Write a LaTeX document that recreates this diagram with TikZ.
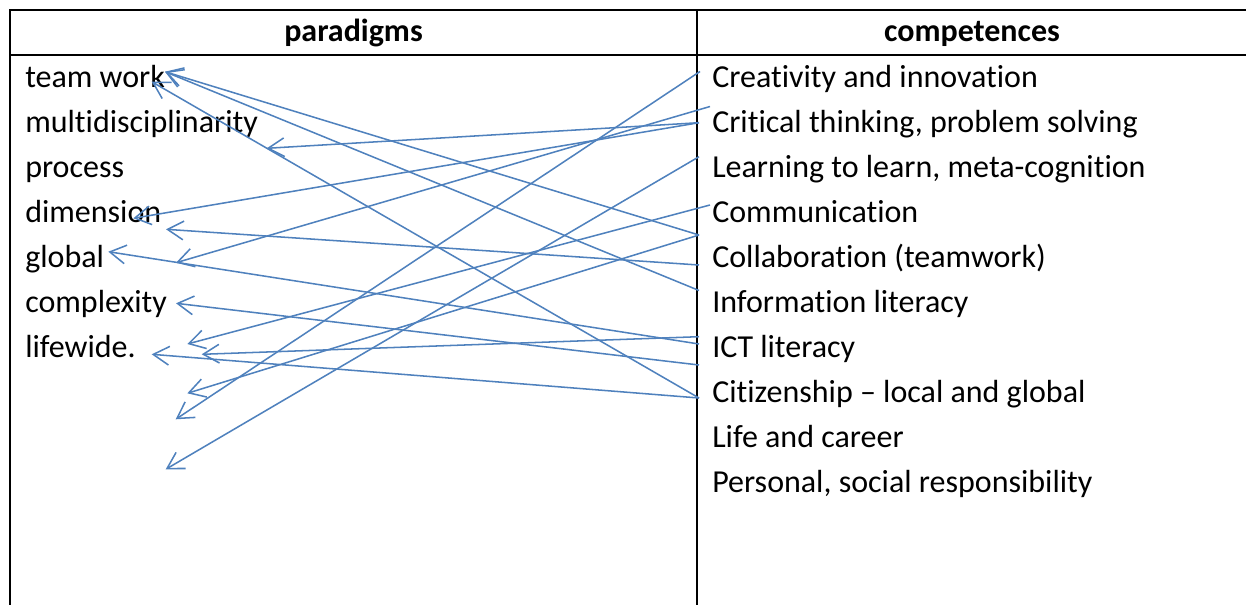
\documentclass[tikz,border=0pt]{standalone}
\usepackage{fontspec}
\setmainfont{Carlito}[Ligatures={NoCommon}]
\usetikzlibrary{arrows.meta}
\definecolor{linkblue}{RGB}{79,129,189}
\begin{document}
\begin{tikzpicture}[x=0.75pt,y=-0.75pt,
  grid/.style={line width=1.4pt, draw=black},
  item/.style={anchor=base west, inner sep=0pt, font=\fontsize{24}{28}\selectfont},
  head/.style={anchor=base, inner sep=0pt, font=\fontsize{24}{28}\selectfont\bfseries},
  link/.style={draw=linkblue, line width=1.15pt, -{Straight Barb[length=12pt,width=14pt]}}]
\useasboundingbox (0,0) rectangle (1246,604);
% table
\draw[grid] (10,610) -- (10,10) -- (1256,10);
\draw[grid] (10,55) -- (1256,55);
\draw[grid] (697,10) -- (697,610);
% headers
\node[head] (hp) at (353.5,41.5) {paradigms};
\node[head] (hc) at (972,41.5) {competences};
% left column
\node[item] (l1) at (25,87) {team work};
\node[item] (l2) at (25,132) {multidisciplinarity};
\node[item] (l3) at (25,177) {process};
\node[item] (l4) at (25,222) {dimension};
\node[item] (l5) at (25,267) {global};
\node[item] (l6) at (25,312) {complexity};
\node[item] (l7) at (25,357) {lifewide.};
% right column
\node[item] (r1) at (712,87) {Creativity and innovation};
\node[item] (r2) at (712,132) {Critical thinking, problem solving};
\node[item] (r3) at (712,177) {Learning to learn, meta-cognition};
\node[item] (r4) at (712,222) {Communication};
\node[item] (r5) at (712,267) {Collaboration (teamwork)};
\node[item] (r6) at (712,312) {Information literacy};
\node[item] (r7) at (712,357) {ICT literacy};
\node[item] (r8) at (712,402) {Citizenship -- local and global};
\node[item] (r9) at (712,447) {Life and career};
\node[item] (r10) at (712,492) {Personal, social responsibility};
% connector end points
\coordinate (s1) at (700,71.5);
\coordinate (s2) at (710,106.5);
\coordinate (s3) at (699,122.7);
\coordinate (s5) at (699,156.7);
\coordinate (s6) at (710,205);
\coordinate (s7) at (699,235);
\coordinate (s9) at (699,265);
\coordinate (s10) at (699,290.5);
\coordinate (s11) at (699,336.7);
\coordinate (s12) at (699,344);
\coordinate (s13) at (699,365);
\coordinate (s14) at (699,398);
\coordinate (tw1) at (165,71.7);
\coordinate (tw2) at (151.7,81.7);
\coordinate (e1) at (175.7,419.3);
\coordinate (e2) at (176,262.7);
\coordinate (e3) at (266.7,148.3);
\coordinate (e4) at (133.3,218.3);
\coordinate (e5) at (165.7,469.3);
\coordinate (e6) at (187.3,344);
\coordinate (e8) at (187.3,393.3);
\coordinate (e9) at (166,229.3);
\coordinate (e11) at (201.7,354.3);
\coordinate (e12) at (108.3,251.7);
\coordinate (e13) at (176,303.3);
\coordinate (e15) at (151.7,354.3);
% connectors
\draw[link] (s1) -- (e1);
\draw[link] (s2) -- (e2);
\draw[link] (s3) -- (e3);
\draw[link] (s3) -- (e4);
\draw[link] (s5) -- (e5);
\draw[link] (s6) -- (e6);
\draw[link] (s7) -- (tw1);
\draw[link] (s7) -- (e8);
\draw[link] (s9) -- (e9);
\draw[link] (s10) -- (tw1);
\draw[link] (s11) -- (e11);
\draw[link] (s12) -- (e12);
\draw[link] (s13) -- (e13);
\draw[link] (s14) -- (tw2);
\draw[link] (s14) -- (e15);
\end{tikzpicture}
\end{document}
